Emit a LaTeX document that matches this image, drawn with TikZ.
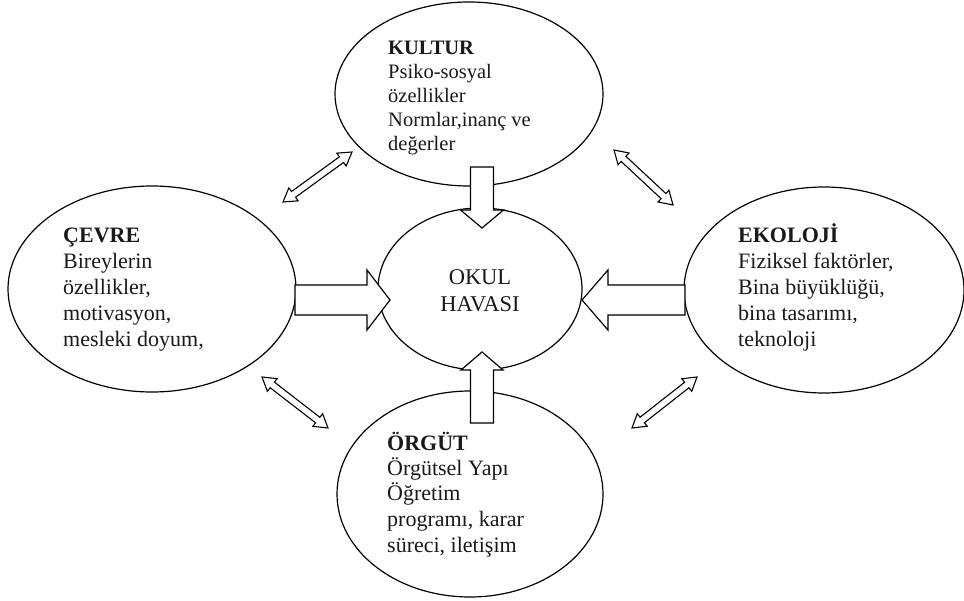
\documentclass[tikz,border=0pt]{standalone}
\usepackage{fontspec}
\setmainfont{Liberation Serif}
\usetikzlibrary{shapes.geometric,calc}
\tikzset{
  ell/.style={draw, ellipse, line width=1.2pt, inner sep=0pt, fill=none},
  blk/.style={draw, fill=white, line width=1.2pt, line join=miter},
  dbl/.style={draw, fill=white, line width=1.1pt, line join=miter},
  txt/.style={inner sep=0pt, anchor=base west, text=black!90},
}
% block arrow: start, end, half shaft, half head, head length, name of head point
\newcommand{\blockarrow}[6]{%
  \coordinate (#6) at ($(#2)!#5!(#1)$);
  \draw[blk] ($(#1)!#3!90:(#2)$) -- ($(#6)!#3!-90:(#1)$) -- ($(#6)!#4!-90:(#1)$)
    -- (#2) -- ($(#6)!#4!90:(#1)$) -- ($(#6)!#3!90:(#1)$) -- ($(#1)!#3!-90:(#2)$) -- cycle;}
% double arrow: end 1, end 2, half shaft, half head, head length, names of head points
\newcommand{\dblarrow}[7]{%
  \coordinate (#6) at ($(#1)!#5!(#2)$);
  \coordinate (#7) at ($(#2)!#5!(#1)$);
  \draw[dbl] (#1) -- ($(#6)!#4!90:(#2)$) -- ($(#6)!#3!90:(#2)$) -- ($(#7)!#3!-90:(#1)$)
    -- ($(#7)!#4!-90:(#1)$) -- (#2) -- ($(#7)!#4!90:(#1)$) -- ($(#7)!#3!90:(#1)$)
    -- ($(#6)!#3!-90:(#2)$) -- ($(#6)!#4!-90:(#2)$) -- cycle;}
\begin{document}
\begin{tikzpicture}[x=1pt,y=-1pt]
\useasboundingbox (0,0) rectangle (964,601);
% ellipses
\node[ell, minimum width=268pt, minimum height=184pt] (kultur) at (469,94) {};
\node[ell, minimum width=288pt, minimum height=206pt] (cevre) at (152,289) {};
\node[ell, minimum width=280pt, minimum height=206pt] (ekoloji) at (824,290) {};
\node[ell, minimum width=266pt, minimum height=206pt] (orgut) at (470,494) {};
\node[ell, minimum width=204pt, minimum height=162pt] (okul) at (480,289) {};
% texts
\node[txt, font=\fontsize{20.5}{24}\selectfont] (tk) at (388,55)
  {\begin{tabular}[t]{@{}l@{}}\textbf{KULTUR}\\Psiko-sosyal\\özellikler\\Normlar,inanç ve\\değerler\end{tabular}};
\node[txt, font=\fontsize{22}{26}\selectfont] (tc) at (63,243)
  {\begin{tabular}[t]{@{}l@{}}\textbf{ÇEVRE}\\Bireylerin\\özellikler,\\motivasyon,\\mesleki doyum,\end{tabular}};
\node[txt, font=\fontsize{22}{26}\selectfont] (te) at (738,243)
  {\begin{tabular}[t]{@{}l@{}}\textbf{EKOLOJİ}\\Fiziksel faktörler,\\Bina büyüklüğü,\\bina tasarımı,\\teknoloji\end{tabular}};
\node[txt, font=\fontsize{22}{25.5}\selectfont] (to) at (387,450)
  {\begin{tabular}[t]{@{}l@{}}\textbf{ÖRGÜT}\\Örgütsel Yapı\\Öğretim\\programı, karar\\süreci, iletişim\end{tabular}};
\node[inner sep=0pt, anchor=base, text=black!90, font=\fontsize{22.5}{27}\selectfont] (tokul) at (480,285)
  {\begin{tabular}[t]{@{}c@{}}OKUL\\HAVASI\end{tabular}};
% block arrow end points
\coordinate (lA) at (295,300); \coordinate (lB) at (390,300);
\coordinate (rA) at (685,300); \coordinate (rB) at (582,300);
\coordinate (tA) at (482,167); \coordinate (tB) at (482,228);
\coordinate (bA) at (482,423); \coordinate (bB) at (482,352);
\blockarrow{lA}{lB}{15pt}{30pt}{23pt}{lH}
\blockarrow{rA}{rB}{15pt}{30pt}{26pt}{rH}
\blockarrow{tA}{tB}{11.5pt}{21.5pt}{18pt}{tH}
\blockarrow{bA}{bB}{11.5pt}{21pt}{18pt}{bH}
% double arrows
\coordinate (d1a) at (283,202); \coordinate (d1b) at (352,152);
\coordinate (d2a) at (614,150); \coordinate (d2b) at (673,205);
\coordinate (d3a) at (262,377); \coordinate (d3b) at (328,428);
\coordinate (d4a) at (632,428); \coordinate (d4b) at (697,377);
\dblarrow{d1a}{d1b}{3.5pt}{8pt}{13pt}{d1h}{d1k}
\dblarrow{d2a}{d2b}{3.5pt}{8pt}{13pt}{d2h}{d2k}
\dblarrow{d3a}{d3b}{3.5pt}{8pt}{13pt}{d3h}{d3k}
\dblarrow{d4a}{d4b}{3.5pt}{8pt}{13pt}{d4h}{d4k}
\end{tikzpicture}
\end{document}
